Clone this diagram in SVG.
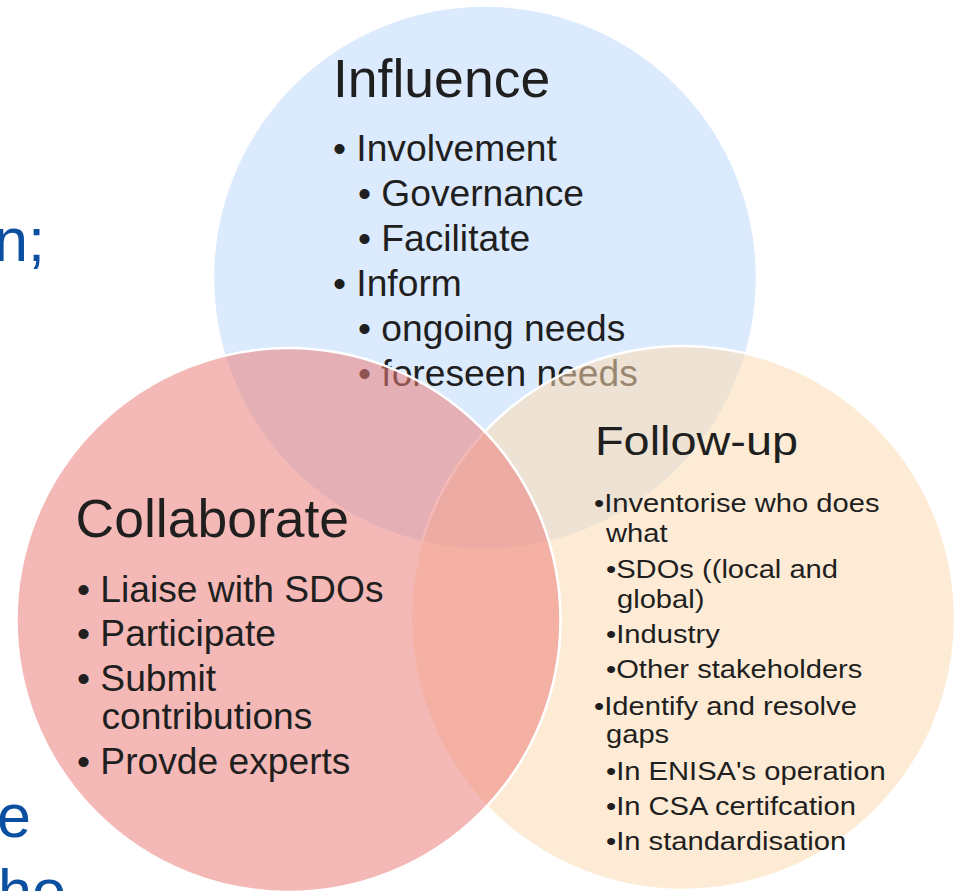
<svg xmlns="http://www.w3.org/2000/svg" width="961" height="891" viewBox="0 0 961 891">
<style>
  .c { stroke: #ffffff; stroke-width: 2.5; }
  .t { font-family: "Liberation Sans", Arial, sans-serif; fill: #1f1f1f; }
  .title { font-size: 53.5px; }
  .b { font-size: 37.2px; }
  .fb { font-size: 26.5px; }
  .bg { font-family: "Liberation Sans", Arial, sans-serif; fill: #0b4fa0; font-size: 61px; }
</style>
<rect width="961" height="891" fill="#ffffff"/>
<g id="background-text">
  <text class="bg" x="-6" y="261">n;</text>
  <text class="bg" x="-3" y="837">e</text>
  <text class="bg" x="-2" y="912">ho</text>
</g>
<g id="influence">
  <circle class="c" cx="485" cy="277.5" r="272" fill="#dbeafc"/>
  <text class="t title" x="333" y="97">Influence</text>
  <text class="t b" x="333" y="161">• Involvement</text>
  <text class="t b" x="358" y="206">• Governance</text>
  <text class="t b" x="358" y="251">• Facilitate</text>
  <text class="t b" x="333" y="296">• Inform</text>
  <text class="t b" x="358" y="341">• ongoing needs</text>
  <text class="t b" x="358" y="386">• foreseen needs</text>
</g>
<g id="follow-up">
  <circle class="c" cx="683" cy="618" r="272" fill="#fbdbb3" fill-opacity="0.55"/>
  <text class="t" x="595" y="455" font-size="40" textLength="203" lengthAdjust="spacingAndGlyphs">Follow-up</text>
  <g transform="translate(594,0) scale(1.1,1)">
    <text class="t fb" x="0" y="512">•Inventorise who does</text>
    <text class="t fb" x="10.9" y="542">what</text>
    <text class="t fb" x="10.9" y="578">•SDOs ((local and</text>
    <text class="t fb" x="20.9" y="608">global)</text>
    <text class="t fb" x="10.9" y="643">•Industry</text>
    <text class="t fb" x="10.9" y="678">•Other stakeholders</text>
    <text class="t fb" x="0" y="715">•Identify and resolve</text>
    <text class="t fb" x="10.9" y="743">gaps</text>
    <text class="t fb" x="10.9" y="780">•In ENISA's operation</text>
    <text class="t fb" x="10.9" y="815">•In CSA certifcation</text>
    <text class="t fb" x="10.9" y="850">•In standardisation</text>
  </g>
</g>
<g id="collaborate">
  <circle class="c" cx="288.5" cy="620" r="272" fill="#eb807a" fill-opacity="0.55"/>
  <text class="t title" x="75.5" y="537">Collaborate</text>
  <text class="t b" x="77" y="602">• Liaise with SDOs</text>
  <text class="t b" x="77" y="646">• Participate</text>
  <text class="t b" x="77" y="691">• Submit</text>
  <text class="t b" x="101.5" y="729">contributions</text>
  <text class="t b" x="77" y="774">• Provde experts</text>
</g>
</svg>
